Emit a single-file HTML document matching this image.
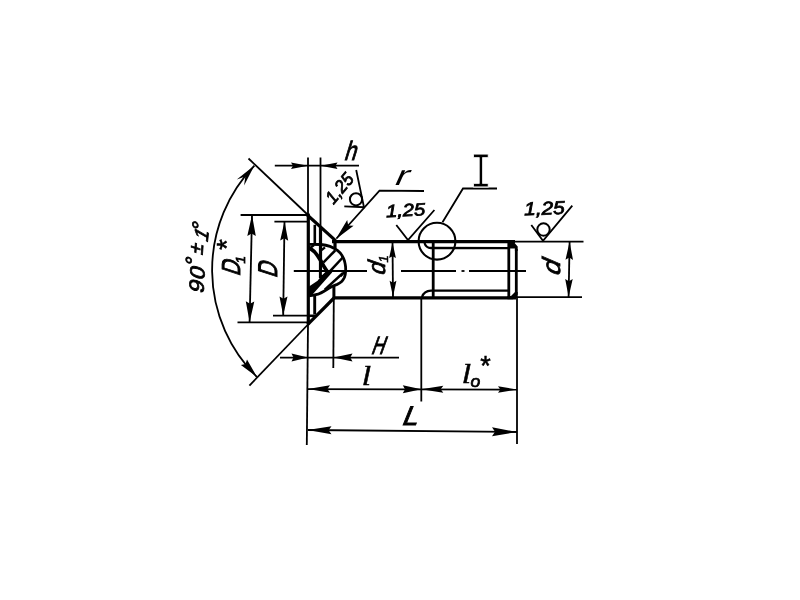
<!DOCTYPE html>
<html><head><meta charset="utf-8"><title>drawing</title>
<style>
html,body{margin:0;padding:0;background:#fff;overflow:hidden}
svg{display:block;filter:grayscale(1)}
svg line,svg path,svg circle{stroke:#000}
svg text{font-family:"Liberation Sans",sans-serif;font-style:italic;fill:#000;stroke:#000;stroke-width:0.5px}
</style></head><body>
<svg width="800" height="600" viewBox="0 0 800 600">
<line x1="248.5" y1="158.5" x2="307.5" y2="214.5" stroke-width="1.8" stroke-linecap="butt"/>
<line x1="249.4" y1="385.6" x2="308.0" y2="324.5" stroke-width="1.8" stroke-linecap="butt"/>
<path d="M254.4 165.6 A150 150 0 0 0 256.9 376.9" stroke-width="1.8" fill="none" />
<polygon points="254.4,165.6 244.1,185.6 245.3,176.6 236.8,179.6" fill="#000" stroke="none"/>
<polygon points="256.9,376.9 240.9,365.1 245.5,364.1 247.0,359.6" fill="#000" stroke="none"/>
<line x1="308.0" y1="157.5" x2="308.0" y2="216.0" stroke-width="1.8" stroke-linecap="butt"/>
<line x1="320.5" y1="157.5" x2="320.5" y2="227.0" stroke-width="1.8" stroke-linecap="butt"/>
<line x1="274.8" y1="165.7" x2="359.0" y2="165.7" stroke-width="1.8" stroke-linecap="butt"/>
<polygon points="308.0,165.7 291.0,168.9 293.0,165.7 291.0,162.4" fill="#000" stroke="none"/>
<polygon points="320.5,165.7 337.5,162.4 335.5,165.7 337.5,168.9" fill="#000" stroke="none"/>
<line x1="240.6" y1="215.0" x2="307.5" y2="215.0" stroke-width="1.8" stroke-linecap="butt"/>
<line x1="237.5" y1="322.4" x2="308.0" y2="322.4" stroke-width="1.8" stroke-linecap="butt"/>
<line x1="252.0" y1="215.0" x2="249.6" y2="322.0" stroke-width="1.8" stroke-linecap="butt"/>
<polygon points="252.0,215.0 255.8,236.1 251.6,233.5 247.3,235.9" fill="#000" stroke="none"/>
<polygon points="249.6,322.3 245.8,301.2 250.0,303.8 254.3,301.4" fill="#000" stroke="none"/>
<line x1="274.4" y1="221.6" x2="308.5" y2="221.6" stroke-width="1.8" stroke-linecap="butt"/>
<line x1="273.0" y1="315.6" x2="315.0" y2="315.6" stroke-width="1.8" stroke-linecap="butt"/>
<line x1="284.5" y1="221.6" x2="283.2" y2="315.5" stroke-width="1.8" stroke-linecap="butt"/>
<polygon points="284.5,221.6 288.2,240.7 284.3,238.3 280.2,240.5" fill="#000" stroke="none"/>
<polygon points="283.2,315.5 279.5,296.4 283.4,298.8 287.5,296.6" fill="#000" stroke="none"/>
<line x1="293.8" y1="271.0" x2="367.0" y2="271.0" stroke-width="1.8" stroke-linecap="butt"/>
<line x1="401.0" y1="271.0" x2="456.0" y2="271.0" stroke-width="1.8" stroke-linecap="butt"/>
<line x1="461.5" y1="271.0" x2="464.5" y2="271.0" stroke-width="1.8" stroke-linecap="butt"/>
<line x1="469.0" y1="271.0" x2="526.0" y2="271.0" stroke-width="1.8" stroke-linecap="butt"/>
<line x1="392.5" y1="242.0" x2="393.0" y2="297.0" stroke-width="1.8" stroke-linecap="butt"/>
<polygon points="392.5,242.6 395.9,258.1 392.5,256.2 389.1,258.1" fill="#000" stroke="none"/>
<polygon points="393.0,296.8 389.6,280.8 393.0,282.7 396.4,280.8" fill="#000" stroke="none"/>
<path d="M396.3 225 L408 240 L434.4 210" stroke-width="1.8" fill="none" />
<circle cx="437" cy="241.2" r="18.4" stroke-width="2.1" fill="none"/>
<path d="M442.5 222.2 L463 188.5 L497 188.5" stroke-width="1.8" fill="none" />
<path d="M424 191 L379.5 190.6 L336.5 238.5" stroke-width="1.8" fill="none" />
<polygon points="335.7,239.3 347.2,220.1 348.2,225.4 353.6,225.8" fill="#000" stroke="none"/>
<path d="M356.2 170 L364 207.2 L344.3 206.3" stroke-width="1.8" fill="none" />
<circle cx="356" cy="199.3" r="6.1" stroke-width="2" fill="none"/>
<line x1="514.0" y1="241.7" x2="583.5" y2="241.7" stroke-width="1.8" stroke-linecap="butt"/>
<line x1="516.0" y1="297.2" x2="582.0" y2="297.2" stroke-width="1.8" stroke-linecap="butt"/>
<line x1="569.6" y1="242.0" x2="568.6" y2="297.0" stroke-width="1.8" stroke-linecap="butt"/>
<polygon points="569.6,241.8 573.0,259.9 569.3,257.6 565.5,259.7" fill="#000" stroke="none"/>
<polygon points="568.6,297.0 565.2,278.9 568.9,281.2 572.7,279.1" fill="#000" stroke="none"/>
<path d="M531.3 225 L543 240.8 L572.3 205.6" stroke-width="1.8" fill="none" />
<circle cx="543.5" cy="229.5" r="6.2" stroke-width="2" fill="none"/>
<line x1="308.0" y1="324.0" x2="306.8" y2="445.0" stroke-width="1.8" stroke-linecap="butt"/>
<line x1="333.8" y1="298.0" x2="333.3" y2="368.0" stroke-width="1.8" stroke-linecap="butt"/>
<line x1="421.3" y1="298.0" x2="421.3" y2="401.5" stroke-width="1.8" stroke-linecap="butt"/>
<line x1="517.0" y1="298.0" x2="517.0" y2="444.0" stroke-width="1.8" stroke-linecap="butt"/>
<line x1="280.0" y1="357.6" x2="399.0" y2="357.6" stroke-width="1.8" stroke-linecap="butt"/>
<polygon points="308.0,357.6 291.5,361.6 293.5,357.6 291.5,353.6" fill="#000" stroke="none"/>
<polygon points="333.5,357.6 352.5,353.6 350.2,357.6 352.5,361.6" fill="#000" stroke="none"/>
<line x1="308.0" y1="389.2" x2="517.0" y2="389.6" stroke-width="1.8" stroke-linecap="butt"/>
<polygon points="308.0,389.0 330.0,385.2 327.4,389.0 330.0,392.8" fill="#000" stroke="none"/>
<polygon points="421.3,389.3 402.8,393.3 405.0,389.3 402.8,385.3" fill="#000" stroke="none"/>
<polygon points="421.3,389.3 443.3,385.8 440.7,389.3 443.3,392.8" fill="#000" stroke="none"/>
<polygon points="517.0,389.5 498.0,392.8 500.3,389.5 498.0,386.2" fill="#000" stroke="none"/>
<line x1="308.0" y1="430.0" x2="517.0" y2="432.0" stroke-width="1.8" stroke-linecap="butt"/>
<polygon points="307.5,430.0 331.5,426.2 328.6,430.2 331.5,434.2" fill="#000" stroke="none"/>
<polygon points="517.0,432.0 492.0,436.3 495.0,431.8 492.0,427.3" fill="#000" stroke="none"/>
<line x1="308.3" y1="213.6" x2="308.3" y2="324.5" stroke-width="3.2" stroke-linecap="butt"/>
<line x1="306.5" y1="214.3" x2="335.6" y2="240.6" stroke-width="3.2" stroke-linecap="butt"/>
<line x1="307.6" y1="324.6" x2="334.0" y2="298.0" stroke-width="3.2" stroke-linecap="butt"/>
<line x1="332.0" y1="241.6" x2="515.0" y2="241.6" stroke-width="3.2" stroke-linecap="butt"/>
<line x1="333.5" y1="297.9" x2="516.0" y2="297.9" stroke-width="3.2" stroke-linecap="butt"/>
<line x1="335.0" y1="241.0" x2="335.0" y2="248.5" stroke-width="3.2" stroke-linecap="butt"/>
<line x1="333.9" y1="285.5" x2="333.9" y2="299.0" stroke-width="3.0" stroke-linecap="butt"/>
<line x1="320.5" y1="227.0" x2="320.5" y2="278.0" stroke-width="3.2" stroke-linecap="butt"/>
<line x1="314.8" y1="224.8" x2="314.8" y2="244.0" stroke-width="2.6" stroke-linecap="butt"/>
<line x1="314.7" y1="296.0" x2="314.7" y2="314.5" stroke-width="2.9" stroke-linecap="butt"/>
<line x1="308.0" y1="315.9" x2="314.5" y2="315.9" stroke-width="2.4" stroke-linecap="butt"/>
<line x1="433.2" y1="241.0" x2="433.2" y2="298.0" stroke-width="2.8" stroke-linecap="butt"/>
<path d="M424.5 243 Q426 248 431 248 L508 248.2" stroke-width="2.3" fill="none" />
<path d="M422 297 Q424 290.8 431 290.6 L508 290.6" stroke-width="2.3" fill="none" />
<line x1="508.8" y1="241.0" x2="508.8" y2="298.0" stroke-width="2.8" stroke-linecap="butt"/>
<path d="M516.3 249 L516.3 298" stroke-width="2.8" fill="none" />
<polygon points="507.5,240.0 512.0,240.0 517.7,246.5 517.7,251.0 514.9,251.0 514.9,248.5 510.0,248.5 510.0,243.0 507.5,243.0" fill="#000" stroke="none"/>
<polygon points="507.5,299.3 513.0,299.3 517.7,294.5 517.7,292.0 515.0,292.0 511.0,296.0 507.5,296.0" fill="#000" stroke="none"/>
<path d="M308.4 244.3 L321 244.5 Q326 244.9 330 246.4 Q334.2 248 337.4 250.4 Q340.2 252.6 342 255.4 Q343.6 258 344.5 261 Q345.3 264 345.6 267 L345.7 271 Q345.5 274.4 344.4 277.5 Q343.2 280 341.4 281.8 Q339.6 283.4 337.2 284.4 L332.4 286.2 L328.8 288.2 L324 291.2 Q321 293 318 294.2 Q314 295.5 309 295.9" stroke-width="2.8" fill="none" />
<path d="M308.4 247.3 Q311.8 249.2 314.3 251.6 Q316.4 254 318.2 256.6 Q320.2 259.6 321.8 262.6 L324.6 267.6 L327.4 271.8" stroke-width="3.7" fill="none" />
<polygon points="309.0,286.4 317.6,280.8 321.6,275.4 327.0,270.4 332.3,272.2 311.2,296.0 309.0,296.2" fill="#000" stroke="none"/>
<polygon points="321.9,272.3 324.2,272.3 321.9,275.0" fill="#fff" stroke="none"/>
<line x1="310.2" y1="248.1" x2="314.0" y2="245.2" stroke-width="2.3" stroke-linecap="butt"/>
<line x1="321.2" y1="250.4" x2="325.0" y2="247.3" stroke-width="2.2" stroke-linecap="butt"/>
<line x1="323.5" y1="262.3" x2="335.2" y2="250.5" stroke-width="2.5" stroke-linecap="butt"/>
<line x1="329.6" y1="271.6" x2="343.2" y2="257.0" stroke-width="2.5" stroke-linecap="butt"/>
<line x1="340.6" y1="276.4" x2="344.6" y2="271.8" stroke-width="2.2" stroke-linecap="butt"/>
<line x1="324.8" y1="289.6" x2="343.0" y2="273.0" stroke-width="2.5" stroke-linecap="butt"/>
<text transform="translate(343.5 160.4) rotate(0) skewX(-17) scale(0.8 1)" style="font-size:26.5px;font-style:normal;stroke-width:0.9px;" >h</text>
<text transform="translate(392.8 184.8) rotate(0) skewX(-24) scale(1.4 1)" style="font-size:28px;font-style:normal;stroke-width:0.0px;" >r</text>
<text transform="translate(469.9 186.6) rotate(0) scale(0.72 1)" style="font-size:50.5px;font-family:'Liberation Mono',monospace;font-style:normal;stroke:#fff;stroke-width:1px" >I</text>
<text transform="translate(333.4 205.0) rotate(-50) scale(0.95 1)" style="font-size:18px;stroke-width:0.8px" >1,25</text>
<text transform="translate(386.3 217.2) rotate(-3) scale(1.15 1)" style="font-size:17.5px;stroke-width:0.8px" >1,25</text>
<text transform="translate(524.3 215.3) rotate(-2) scale(1.13 1)" style="font-size:18.5px;stroke-width:0.8px" >1,25</text>
<text transform="translate(384.8 276.3) rotate(-90) skewX(-19) scale(0.95 1)" style="font-size:24px;font-style:normal;stroke-width:0.8px;" >d</text>
<text transform="translate(387.5 262.5) rotate(-90) scale(1.0 1)" style="font-size:13px;" >1</text>
<text transform="translate(560.3 276.9) rotate(-90) skewX(-23) scale(1.08 1)" style="font-size:25px;font-style:normal;stroke-width:0.8px;" >d</text>
<text transform="translate(203.4 294.2) rotate(-87) skewX(-14) scale(1.08 1)" style="font-size:21px;font-style:normal;stroke-width:0.8px;" >9</text>
<text transform="translate(204.2 280.8) rotate(-87) skewX(-14) scale(1.08 1)" style="font-size:21px;font-style:normal;stroke-width:0.8px;" >0</text>
<text transform="translate(200.8 268.0) rotate(-88) skewX(-14) scale(1.0 1)" style="font-size:22px;font-style:normal;stroke-width:0.8px;" >°</text>
<text transform="translate(202.6 255.6) rotate(-86) skewX(-14) scale(0.95 1)" style="font-size:20px;font-style:normal;stroke-width:0.8px;" >±</text>
<text transform="translate(207.6 243.2) rotate(-84) skewX(-24) scale(1.0 1)" style="font-size:20px;font-style:normal;stroke-width:0.8px;" >1</text>
<text transform="translate(206.8 233.4) rotate(-84) skewX(-14) scale(1.0 1)" style="font-size:22px;font-style:normal;stroke-width:0.8px;" >°</text>
<text transform="translate(239.5 276.5) rotate(-90) skewX(-18) scale(0.78 1)" style="font-size:26px;font-style:normal;stroke-width:1.0px;" >D</text>
<text transform="translate(244.5 263.5) rotate(-90) scale(1.0 1)" style="font-size:13.5px;stroke-width:0.8px" >1</text>
<text transform="translate(236.0 250.0) rotate(-90) scale(1.0 1)" style="font-size:28px;font-style:normal" >*</text>
<text transform="translate(277.2 278.5) rotate(-90) skewX(-18) scale(0.77 1)" style="font-size:27px;font-style:normal;stroke-width:1.0px;" >D</text>
<text transform="translate(370.6 353.5) rotate(0) skewX(-20) scale(0.7 1)" style="font-size:25px;font-style:normal;stroke-width:1.0px;" >H</text>
<text transform="translate(361.8 385.0) rotate(0) scale(1.2 1)" style="font-size:28px;font-family:'Liberation Serif',serif;stroke-width:0.5px" >l</text>
<text transform="translate(461.8 383.0) rotate(0) scale(1.2 1)" style="font-size:28px;font-family:'Liberation Serif',serif;stroke-width:0.5px" >l</text>
<text transform="translate(470.6 386.6) rotate(0) scale(1.1 1)" style="font-size:16px;stroke-width:0.7px" >o</text>
<text transform="translate(480.3 375.0) rotate(0) scale(1.0 1)" style="font-size:27px;font-style:normal" >*</text>
<text transform="translate(400.8 425.0) rotate(0) skewX(-22) scale(1.05 1)" style="font-size:27px;font-style:normal;stroke-width:0.9px;" >L</text>
</svg>
</body></html>
